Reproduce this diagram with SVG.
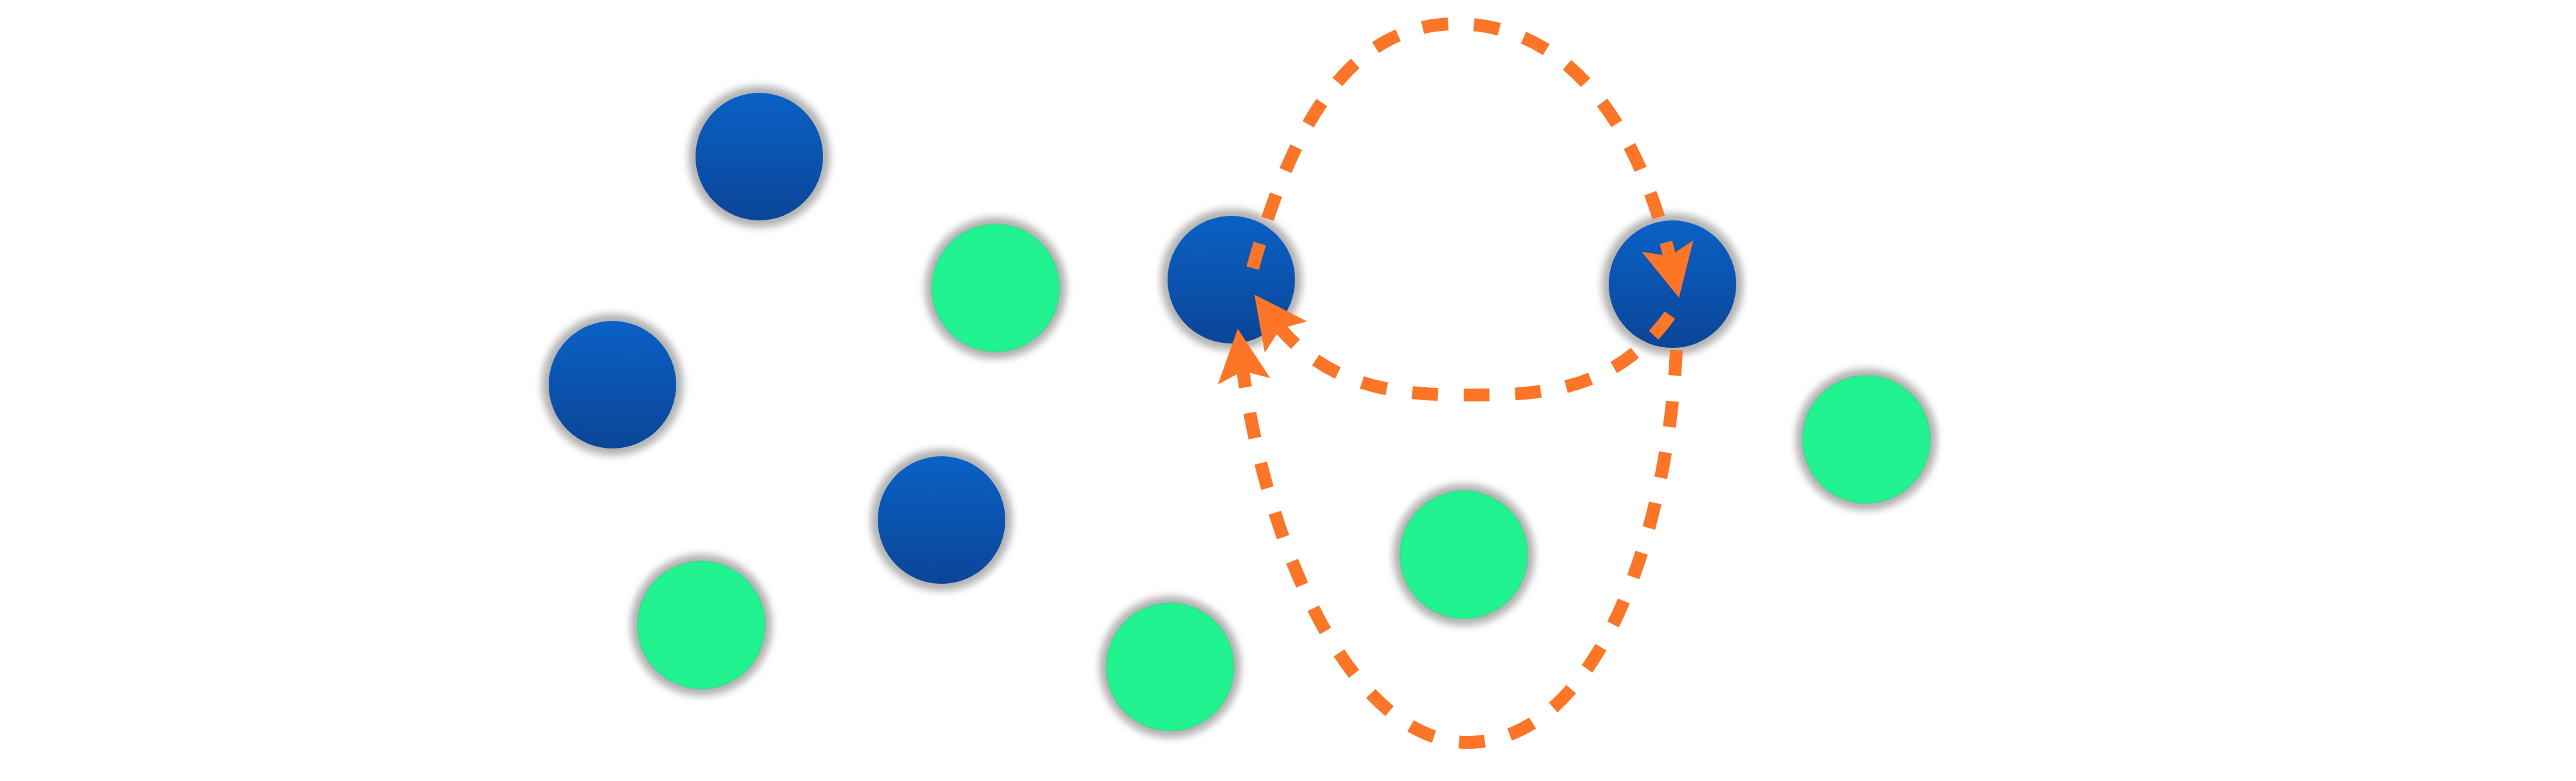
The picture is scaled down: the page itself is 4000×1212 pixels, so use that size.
<svg xmlns="http://www.w3.org/2000/svg" width="4000" height="1212" viewBox="0 0 4000 1212">
<style>
.halo{fill:#999999;filter:url(#blur);opacity:0.75}
.blue{fill:url(#bg)}
.green{fill:#20f38f;stroke:#3fd98d;stroke-width:1.5}
.edge{fill:none;stroke:#fd7628;stroke-width:20;stroke-dasharray:40 40}
.arr{fill:#fd7628}
</style>
<defs>
<linearGradient id="bg" x1="0" y1="0" x2="0" y2="1">
<stop offset="0" stop-color="#0a61c6"/>
<stop offset="1" stop-color="#0b4597"/>
</linearGradient>
<filter id="blur" x="-20%" y="-20%" width="140%" height="140%">
<feGaussianBlur stdDeviation="6"/>
</filter>
<marker id="ah" markerUnits="userSpaceOnUse" markerWidth="100" markerHeight="100" refX="40" refY="0" orient="auto" overflow="visible">
<path class="arr" d="M82,0 L0,-41 L16,0 L0,41 Z"/>
</marker>
</defs>
<rect width="4000" height="1212" fill="#ffffff"/>
<g id="n1"><circle class="halo" cx="1179" cy="243" r="110"/><circle class="blue" cx="1179" cy="243" r="99"/></g>
<g id="n2"><circle class="halo" cx="1546" cy="447" r="110"/><circle class="green" cx="1546" cy="447" r="99"/></g>
<g id="n3"><circle class="halo" cx="1912" cy="434" r="110"/><circle class="blue" cx="1912" cy="434" r="99"/></g>
<g id="n4"><circle class="halo" cx="2597" cy="441" r="110"/><circle class="blue" cx="2597" cy="441" r="99"/></g>
<g id="n5"><circle class="halo" cx="951" cy="597" r="110"/><circle class="blue" cx="951" cy="597" r="99"/></g>
<g id="n6"><circle class="halo" cx="2898" cy="682" r="110"/><circle class="green" cx="2898" cy="682" r="99"/></g>
<g id="n7"><circle class="halo" cx="1462" cy="807" r="110"/><circle class="blue" cx="1462" cy="807" r="99"/></g>
<g id="n8"><circle class="halo" cx="2273" cy="861" r="110"/><circle class="green" cx="2273" cy="861" r="99"/></g>
<g id="n9"><circle class="halo" cx="1089" cy="970" r="110"/><circle class="green" cx="1089" cy="970" r="99"/></g>
<g id="n10"><circle class="halo" cx="1817" cy="1035" r="110"/><circle class="green" cx="1817" cy="1035" r="99"/></g>
<g id="connectors">
<path class="edge" marker-end="url(#ah)" stroke-dashoffset="40" d="M1935,455 C2003,183 2100,37 2262,37 C2424,37 2544,177 2598,421"/>
<path class="edge" marker-end="url(#ah)" d="M2593,489 C2508,608 2392,613 2286,613 C2180,613 2060,608 1973,491"/>
<path class="edge" marker-end="url(#ah)" d="M2603,543 C2590,830 2480,1152 2279,1152 C2100,1152 1963,849 1927,552"/>
</g>
</svg>
